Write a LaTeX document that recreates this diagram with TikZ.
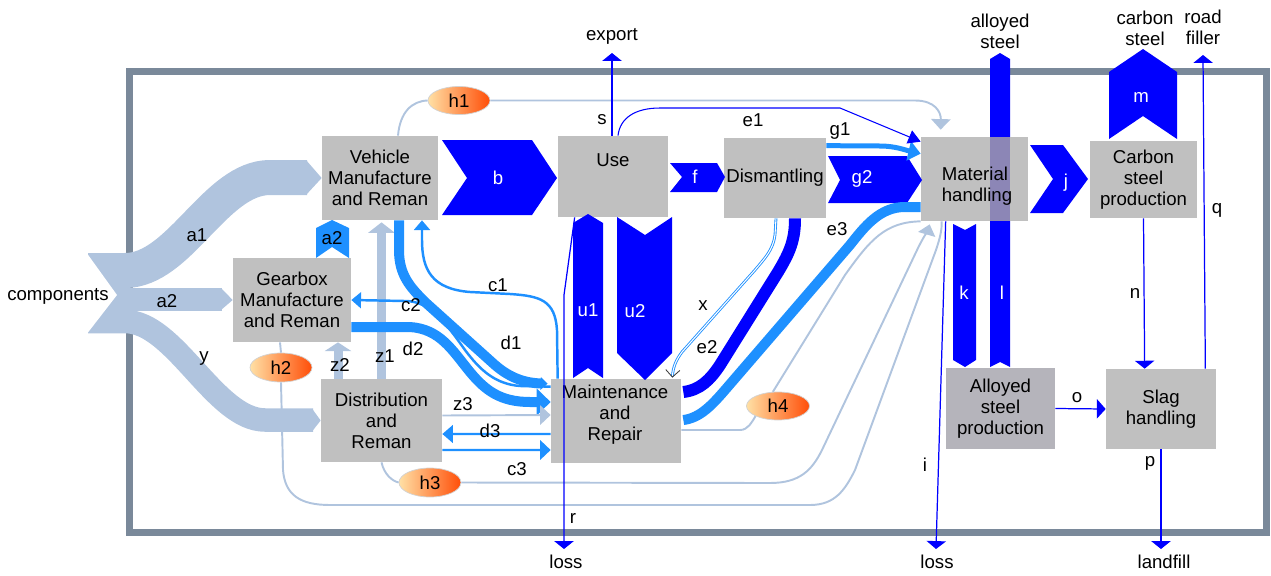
\documentclass[tikz,border=0pt]{standalone}
\usepackage{fontspec}
\setmainfont{Liberation Sans}
\usetikzlibrary{calc,shapes.geometric,arrows.meta}
\definecolor{framegray}{RGB}{122,137,154}
\definecolor{boxgray}{RGB}{192,192,192}
\definecolor{aspgray}{RGB}{181,180,187}
\definecolor{lsblue}{RGB}{176,196,222}
\definecolor{dblue}{RGB}{30,144,255}
\definecolor{overlap}{RGB}{140,134,182}
\definecolor{hlight}{RGB}{255,224,165}
\definecolor{hdark}{RGB}{255,78,8}

\begin{document}
\begin{tikzpicture}[x=0.02cm, y=-0.02cm, font=\fontsize{10.6}{12}\selectfont,
    proc/.style={fill=boxgray, align=center, inner sep=0pt},
    hnode/.style={ellipse, draw=gray!35, left color=hlight, right color=hdark,
      minimum width=1.24cm, minimum height=0.56cm, inner sep=0pt},
    wlbl/.style={text=white},
    lsline/.style={lsblue, line width=1.1pt},
    thinflow/.style={blue, line width=0.7pt, -{Triangle[width=11pt,length=4.5pt]}},
    medflow/.style={dblue, line width=1.4pt}]
    \useasboundingbox (0,0) rectangle (1271,575);
    \draw[framegray, line width=0.14cm] (129.5,71.5) rectangle (1266.5,532);

    % processes
    \node[proc, minimum width=2.32cm, minimum height=1.68cm] (vm) at (380,178) {Vehicle\\Manufacture\\and Reman};
    \node[proc, minimum width=2.2cm, minimum height=1.62cm] (use) at (613,176.5) {};
    \node (uselbl) at (613,160) {Use};
    \node[proc, minimum width=2.04cm, minimum height=1.6cm] (dis) at (775,178) {Dismantling};
    \node[proc, minimum width=2.14cm, minimum height=1.54cm] (csp) at (1143.5,179.5) {Carbon\\steel\\production};
    \node[proc, minimum width=2.36cm, minimum height=1.68cm] (gb) at (292,300) {Gearbox\\Manufacture\\and Reman};
    \node[proc, minimum width=2.42cm, minimum height=1.66cm] (dr) at (381.5,420.5) {Distribution\\and\\Reman};
    \node[proc, minimum width=2.6cm, minimum height=1.68cm] (mr) at (616,421) {};
    \node[align=center] (mrlbl) at (615,415) {Maintenance\\and\\Repair};
    \node[proc, fill=aspgray, minimum width=2.18cm, minimum height=1.62cm] (asp) at (1000.5,408.5) {Alloyed\\steel\\production};
    \node[proc, minimum width=2.2cm, minimum height=1.6cm] (slag) at (1161,409) {Slag\\handling};

    % l runs under material handling
    \fill[blue] (990,367) -- (990,59) -- (1000,53) -- (1010,59) -- (1010,367) -- (1000,362) -- cycle;
    \node[proc, minimum width=2.14cm, minimum height=1.68cm] (mat) at (974.5,179) {};
    \fill[overlap] (990,137) rectangle (1010,221);
    \node[align=left] (matlbl) at (977,186) {Material\\handling};

    % hidden flows
    \node[hnode] (h1) at (459,100.5) {h1};
    \node[hnode, minimum height=0.58cm] (h2) at (281,367.5) {h2};
    \node[hnode, minimum height=0.58cm] (h3) at (430,482.5) {h3};
    \node[hnode, minimum width=1.26cm] (h4) at (778,406) {h4};
    \draw[lsline] ($(vm.north)+(18,0)$) .. controls (400,112) and (412,101) .. (h1.west);
    \draw[lsline, -{Triangle[width=11pt,length=6pt]}] (h1.east) -- (915,100.5) .. controls (935,100.5) and (941,112) .. ($(mat.north west)+(20,-7)$);
    \draw[lsline] ($(gb.south)+(-12,0)$) -- (h2.north);
    \draw[lsline] (h2.south) -- (283,470) .. controls (285,495) and (300,505) .. (330,505) -- (810,505)
      .. controls (835,505) and (845,490) .. (855,470) -- (936,250) .. controls (940,238) and (942,230) .. ($(mat.south west)+(21,0)$);
    \draw[lsline] (dr.south) .. controls (384,474) and (392,481) .. (h3.west);
    \draw[lsline, -{Triangle[width=10pt,length=6pt]}] (h3.east) -- (770,483) .. controls (800,483) and (812,470) .. (822,450)
      -- (918,248) .. controls (924,236) and (928,230) .. ($(mat.south west)+(9,3)$);
    \draw[lsline] ($(mr.east)+(0,9)$) -- (740,430) .. controls (748,430) and (752,422) .. (h4.south west);
    \draw[lsline] (h4.110) -- (845,275) .. controls (870,240) and (885,222) .. (mat.south west);

    % components
    \draw[lsblue, line width=0.7cm] (88,270.5) -- (125,270.5) .. controls (180,270.5) and (215,177.5) .. (270,177.5) -- (307,177.5);
    \fill[lsblue] (306,160) -- (vm.west) -- (306,195) -- cycle;
    \draw[lsblue, line width=0.46cm] (88,299) -- (222,299);
    \fill[lsblue] (221,288) -- (gb.west) -- (221,310) -- cycle;
    \draw[lsblue, line width=0.47cm] (88,321.5) -- (125,321.5) .. controls (175,321.5) and (215,420) .. (265,420) -- (313,420);
    \fill[lsblue] (312,408.5) -- (dr.west) -- (312,431.5) -- cycle;
    \fill[white] (86,252) -- (117,295) -- (86,335) -- cycle;
    \node (comp) at (58,296) {components};
    \node (la1) at (197,235) {a1};
    \node (la2) at (167,301) {a2};
    \node (ly) at (204,359) {y};

    % main blue flows
    \fill[blue] (442,140) -- (532,140) -- (557,178) -- (532,215) -- (442,215) -- (467,178) -- cycle;
    \fill[blue] (670,163) -- (717,163) -- (725,177) -- (717,192) -- (670,192) -- (682,177) -- cycle;
    \fill[blue] (828,156) -- (907,156) -- (922,180) -- (907,203) -- (828,203) -- (840,180) -- cycle;
    \fill[blue] (1030,145) -- (1063,145) -- (1088,179) -- (1063,213) -- (1030,213) -- (1053,179) -- cycle;
    \fill[blue] (1109,139) -- (1109,72) -- (1143,49) -- (1177,72) -- (1177,139) -- (1143,116) -- cycle;
    \fill[blue] (953,224) -- (965,230) -- (976,224) -- (976,360) -- (965,367) -- (953,360) -- cycle;
    \fill[blue] (573,378) -- (573,223) -- (588,214) -- (603,223) -- (603,378) -- (588,368) -- cycle;
    \fill[blue] (617,217) -- (645,235) -- (672,217) -- (672,353) -- (645,380) -- (617,353) -- cycle;
    \node[wlbl] (lb) at (498,178) {b};
    \node[wlbl] (lf) at (695,177) {f};
    \node[wlbl] (lg2) at (862,179) {g2};
    \node[wlbl] (lj) at (1066,183) {j};
    \node[wlbl] (lm) at (1141,97) {m};
    \node[wlbl] (lk) at (964,293) {k};
    \node[wlbl] (ll) at (1002,293) {l};
    \node[wlbl] (lu1) at (588,310) {u1};
    \node[wlbl] (lu2) at (635,311) {u2};

    % reman and repair loops
    \fill[dblue] (316,258) -- (316,228) -- (332,220) -- (349,228) -- (349,258) -- (332,247) -- cycle;
    \node (la2b) at (332,238) {a2};
    \draw[lsblue, line width=0.18cm, -{Triangle[width=15pt,length=6pt]}] (dr.north) -- ($(vm.south)+(1.5,2)$);
    \draw[lsblue, line width=0.18cm, -{Triangle[width=15pt,length=5pt]}] ($(dr.north)+(-43.5,0)$) -- ($(gb.south)+(46,0)$);
    \draw[medflow, -{Triangle[width=9pt,length=5.5pt]}] ($(mr.north west)+(7,0)$) -- (557,330) .. controls (555,300) and (540,296) .. (510,294)
      -- (470,292) .. controls (432,289) and (422,270) .. (422,240) -- ($(vm.south)+(42,0)$);
    \draw[medflow, -{Triangle[width=9pt,length=5.5pt]}] ($(mr.north west)+(0,8)$) -- (520,386) .. controls (495,384) and (480,370) .. (465,350)
      .. controls (445,322) and (430,301) .. (405,301) -- (gb.east);
    \draw[dblue, line width=0.2cm, -{Triangle[width=7pt,length=4pt]}] ($(vm.south)+(19,0)$) -- (399,250) .. controls (399,275) and (410,287) .. (425,302)
      -- (495,365) .. controls (510,378) and (525,383) .. ($(mr.north west)+(-3,5)$);
    \draw[dblue, line width=0.2cm, -{Triangle[width=15pt,length=8pt]}] ($(gb.east)+(0,27)$) -- (410,327) .. controls (440,329) and (452,350) .. (470,372)
      .. controls (485,390) and (500,402) .. (530,402) -- ($(mr.west)+(0,-19)$);
    \draw[lsline, -{Triangle[width=11pt,length=6pt]}] ($(dr.east)+(0,-5)$) -- ($(mr.west)+(0,-6)$);
    \draw[medflow, -{Triangle[width=10pt,length=6pt]}] ($(mr.west)+(0,13)$) -- ($(dr.east)+(0,13.5)$);
    \draw[medflow, -{Triangle[width=11pt,length=6pt]}] ($(dr.east)+(0,29.5)$) -- ($(mr.west)+(0,29)$);
    \node (lc1) at (498,285) {c1};
    \node (lc2) at (411,305) {c2};
    \node (ld1) at (511,343) {d1};
    \node (ld2) at (413,349) {d2};
    \node (lz1) at (385,356) {z1};
    \node (lz2) at (340,365) {z2};
    \node (lz3) at (463,404) {z3};
    \node (ld3) at (490,431) {d3};
    \node (lc3) at (517,469) {c3};

    % dismantling and material handling
    \draw[dblue, double=white, line width=0.5pt, double distance=0.6pt, -{Straight Barb[color=darkgray,length=4pt,width=8pt]}]
      ($(dis.south)+(1,0)$) -- (775,235) .. controls (773,250) and (765,258) .. (755,270) -- (682,352)
      .. controls (676,360) and (673,367) .. ($(mr.north east)+(-9,-1)$);
    \draw[blue, line width=0.24cm] ($(mr.east)+(2,-29)$) .. controls (700,390) and (710,380) .. (720,365) -- (778,272)
      .. controls (790,252) and (795,240) .. ($(dis.south)+(20,0)$);
    \draw[dblue, line width=0.2cm] ($(mr.east)+(2,-1)$) .. controls (700,418) and (712,405) .. (725,390) -- (850,245)
      .. controls (865,226) and (880,207) .. (905,207) -- ($(mat.west)+(0,28)$);
    \draw[dblue, line width=0.1cm, -{Triangle[width=11pt,length=7pt]}] ($(dis.north east)+(0,8)$) -- (880,146)
      .. controls (895,146) and (905,150) .. ($(mat.north west)+(0,17)$);
    \draw[blue, line width=0.6pt, -{Triangle[width=8pt,length=7pt]}] ($(use.north)+(5,0)$) .. controls (620,118) and (635,108) .. (660,108)
      -- (840,108) -- ($(mat.north west)+(0,5)$);
    \node (lx) at (703,306) {x};
    \node (le2) at (707,347) {e2};
    \node (le3) at (837,229) {e3};
    \node (lg1) at (840,131) {g1};
    \node (le1) at (753,120) {e1};

    % exports and losses
    \coordinate (sEnd) at (612,53);
    \coordinate (rEnd) at (564,549);
    \coordinate (iEnd) at (936,549);
    \coordinate (pEnd) at (1161,549);
    \coordinate (qEnd) at (1203,55);
    \draw[thinflow] ($(use.north)+(-1,0)$) -- (sEnd);
    \draw[thinflow] ($(use.south west)+(17,0)$) -- (564,295) -- (rEnd);
    \draw[thinflow] ($(mat.south west)+(25,0)$) -- (iEnd);
    \draw[thinflow] (csp.south) -- ($(slag.north west)+(39,0)$);
    \draw[thinflow, -{Triangle[width=11pt,length=5pt]}] (asp.east) -- (slag.west);
    \draw[thinflow] (slag.south) -- (pEnd);
    \draw[thinflow] ($(slag.north east)+(-11,0)$) -- (qEnd);
    \node (ls) at (602,120) {s};
    \node (lr) at (573,518) {r};
    \node (li) at (925,465) {i};
    \node (ln) at (1135,293) {n};
    \node (lo) at (1077,398) {o};
    \node (lp) at (1150,463) {p};
    \node (lq) at (1217,210) {q};
    \node (export) at (612,36) {export};
    \node[align=center] (alloyout) at (1000,31) {alloyed\\steel};
    \node[align=center] (carbout) at (1145,28) {carbon\\steel};
    \node[align=center] (roadout) at (1203,27) {road\\filler};
    \node (loss1) at (566,562) {loss};
    \node (loss2) at (937,562) {loss};
    \node (landfill) at (1164,562) {landfill};
\end{tikzpicture}
\end{document}
